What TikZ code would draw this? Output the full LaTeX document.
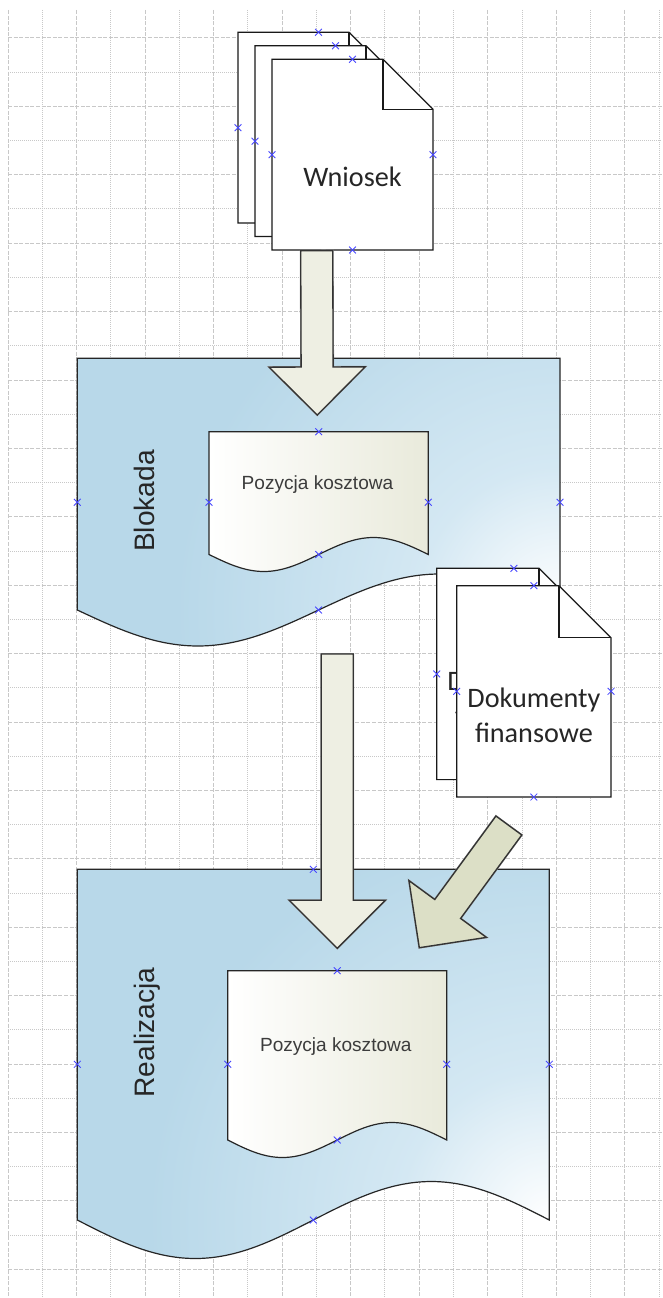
\documentclass[tikz,border=0pt]{standalone}
\usepackage{fontspec}
\newfontfamily\calfont{Carlito}
\newfontfamily\arifont{Liberation Sans}
\usetikzlibrary{calc}
\definecolor{blueC}{RGB}{184,216,233}
\definecolor{blueM}{RGB}{212,232,243}
\definecolor{pozR}{RGB}{233,234,219}
\definecolor{arrF}{RGB}{238,239,227}
\definecolor{arrG}{RGB}{220,223,198}
\definecolor{gridC}{RGB}{200,200,200}
\definecolor{cpC}{RGB}{70,70,255}
\definecolor{txtC}{RGB}{38,38,38}
\pgfdeclareradialshading{docshade}{\pgfpoint{0bp}{0bp}}{color(0bp)=(white); color(6bp)=(blueM); color(16bp)=(blueC); color(50bp)=(blueC)}
\tikzset{
  cp/.pic={\draw[draw=cpC, line width=0.65pt] (-3.4,-3.4) -- (3.4,3.4) (-3.4,3.4) -- (3.4,-3.4);},
  gridmaj/.style={draw=gridC, line width=0.75pt, dash pattern=on 3pt off 1.2pt},
  gridmin/.style={draw=gridC, line width=0.75pt, dash pattern=on 0.75pt off 0.75pt},
  pageline/.style={draw=black!90, line width=0.9pt, fill=white},
  docline/.style={draw=black!85, line width=0.9pt},
  arrowA/.style={fill=arrF, draw=black!80, line width=1pt},
  arrowB/.style={fill=arrG, draw=black!80, line width=1pt},
  arrowsh/.style={draw=black!40, line width=1.4pt},
  bigsans/.style={font=\arifont\fontsize{21.1}{25}\selectfont, text=txtC, inner sep=0pt},
  smallsans/.style={font=\arifont\fontsize{14.3}{17}\selectfont, text=txtC!90, inner sep=0pt},
  calbig/.style={font=\calfont\fontsize{21.15}{26.25}\selectfont, text=txtC, inner sep=0pt},
}
% page with dog-ear: #1 name, #2 left, #3 top, #4 width, #5 height, #6 ear
\newcommand\docpage[6]{%
  \draw[pageline] (#2,#3) -- ({#2+#4-#6},#3) -- ({#2+#4},{#3+#6}) -- ({#2+#4},{#3+#5}) -- (#2,{#3+#5}) -- cycle;
  \draw[pageline, fill=none] ({#2+#4-#6},#3) -- ({#2+#4-#6},{#3+#6}) -- ({#2+#4},{#3+#6});
  \coordinate (#1-n) at ({#2+#4/2},#3);
  \coordinate (#1-w) at (#2,{#3+#5/2});
  \coordinate (#1-e) at ({#2+#4},{#3+#5/2});
  \coordinate (#1-s) at ({#2+#4/2},{#3+#5});
}
\newcommand\blockarrow[3]{%
  \coordinate (#1-#2-h) at ($(#2)!36pt!(#1)$);
  \draw[arrowsh, xshift=-1.2pt] ($(#1)!12pt!90:(#2)$) -- ($(#1-#2-h)!12pt!90:(#2)$) -- ($(#1-#2-h)!36pt!90:(#2)$) -- (#2) -- ($(#1-#2-h)!36pt!-90:(#2)$) -- ($(#1-#2-h)!12pt!-90:(#2)$) -- ($(#1)!12pt!-90:(#2)$) -- cycle;
  \draw[#3] ($(#1)!12pt!90:(#2)$) -- ($(#1-#2-h)!12pt!90:(#2)$) -- ($(#1-#2-h)!36pt!90:(#2)$) -- (#2) -- ($(#1-#2-h)!36pt!-90:(#2)$) -- ($(#1-#2-h)!12pt!-90:(#2)$) -- ($(#1)!12pt!-90:(#2)$) -- cycle;}
\begin{document}
\begin{tikzpicture}[x=0.75pt,y=-0.75pt]
\useasboundingbox (0,0) rectangle (662,1298);
\fill[white] (0,0) rectangle (662,1298);
% grid
\foreach \k in {0,...,19}{\ifodd\k \draw[gridmin] ({8+34.27*\k},10) -- ({8+34.27*\k},1298);\else \draw[gridmaj] ({8+34.27*\k},10) -- ({8+34.27*\k},1298);\fi}
\foreach \k in {0,...,36}{\ifodd\k \draw[gridmin] (8,{38+34.2*\k}) -- (662,{38+34.2*\k});\else \draw[gridmaj] (8,{38+34.2*\k}) -- (662,{38+34.2*\k});\fi}

% Blokada
\draw[docline, path picture={\shade[shading=docshade] (560,610) circle (450pt);}]
  (77.3,358.3) -- (560,358.3) -- (560,610) sin (439.4,574) cos (318.6,610) sin (197.9,646) cos (77.3,610) -- cycle;
\coordinate (blok-n) at (318.6,358.3);
\coordinate (blok-w) at (77.3,502.3);
\coordinate (blok-e) at (560,502.3);
\coordinate (blok-s) at (318.6,610);
\foreach \p in {blok-n,blok-w,blok-e,blok-s} \pic at (\p) {cp};
\node[bigsans, rotate=90, anchor=base] (bloktxt) at (154.5,501) {Blokada};
% Pozycja 1
\draw[docline, left color=white, right color=pozR]
  (209,431.7) -- (428.3,431.7) -- (428.3,554.5) sin (373.5,537.5) cos (318.7,554.5) sin (263.9,571.5) cos (209,554.5) -- cycle;
\coordinate (poz1-n) at (318.7,431.7);
\coordinate (poz1-w) at (209,502.3);
\coordinate (poz1-e) at (428.3,502.3);
\coordinate (poz1-s) at (318.7,554.5);
\foreach \p in {poz1-n,poz1-w,poz1-e,poz1-s} \pic at (\p) {cp};
\node[smallsans, anchor=base] (poz1txt) at (317.5,489.3) {Pozycja kosztowa};

% Wniosek pages
\docpage{wn3}{238}{32.3}{161}{190.7}{50}
\foreach \p in {wn3-n,wn3-w} \pic at (\p) {cp};
\docpage{wn2}{255}{45.8}{161}{190.7}{50}
\foreach \p in {wn2-n,wn2-w} \pic at (\p) {cp};
\docpage{wn1}{272}{59.3}{161}{190.7}{50}
\foreach \p in {wn1-n,wn1-w,wn1-e,wn1-s} \pic at (\p) {cp};
\node[calbig, anchor=base] (wntxt) at (352.5,186.7) {Wniosek};

% arrow 1
\coordinate (a1s) at (316.7,250.7);
\coordinate (a1t) at (317.3,415);
\blockarrow{a1s}{a1t}{arrowA}

% Dokumenty pages
\docpage{dk2}{436.7}{568.3}{154.3}{211.3}{52}
\foreach \p in {dk2-n,dk2-w} \pic at (\p) {cp};
\node[calbig, align=center, anchor=base] (dk2txt) at (513.9,725.3) {Dokumenty\\finansowe};
\docpage{dk1}{456.7}{585.7}{154.3}{211.3}{52}
\foreach \p in {dk1-n,dk1-w,dk1-e,dk1-s} \pic at (\p) {cp};
\node[calbig, align=center, anchor=base] (dk1txt) at (533.9,742.7) {Dokumenty\\finansowe};

% Realizacja
\draw[docline, path picture={\shade[shading=docshade] (549.3,1220) circle (470pt);}]
  (77.3,869.3) -- (549.3,869.3) -- (549.3,1220) sin (431.3,1181.5) cos (313.3,1220) sin (195.3,1258.5) cos (77.3,1220) -- cycle;
\coordinate (real-n) at (313.3,869.3);
\coordinate (real-w) at (77.3,1064.3);
\coordinate (real-e) at (549.3,1064.3);
\coordinate (real-s) at (313.3,1220);
\foreach \p in {real-n,real-w,real-e,real-s} \pic at (\p) {cp};
\node[bigsans, rotate=90, anchor=base] (realtxt) at (154.5,1032.5) {Realizacja};
% Pozycja 2
\draw[docline, left color=white, right color=pozR]
  (227.7,970.7) -- (446.7,970.7) -- (446.7,1140) sin (392,1122.5) cos (337.2,1140) sin (282.4,1157.5) cos (227.7,1140) -- cycle;
\coordinate (poz2-n) at (337.2,970.7);
\coordinate (poz2-w) at (227.7,1064.3);
\coordinate (poz2-e) at (446.7,1064.3);
\coordinate (poz2-s) at (337.2,1140);
\foreach \p in {poz2-n,poz2-w,poz2-e,poz2-s} \pic at (\p) {cp};
\node[smallsans, anchor=base] (poz2txt) at (335.8,1051.7) {Pozycja kosztowa};

% arrows 2 and 3
\coordinate (a2s) at (337.3,654);
\coordinate (a2t) at (337.3,948.3);
\blockarrow{a2s}{a2t}{arrowA}
\coordinate (a3s) at (508.85,825.5);
\coordinate (a3t) at (419.3,947.7);
\blockarrow{a3s}{a3t}{arrowB}
\end{tikzpicture}
\end{document}
